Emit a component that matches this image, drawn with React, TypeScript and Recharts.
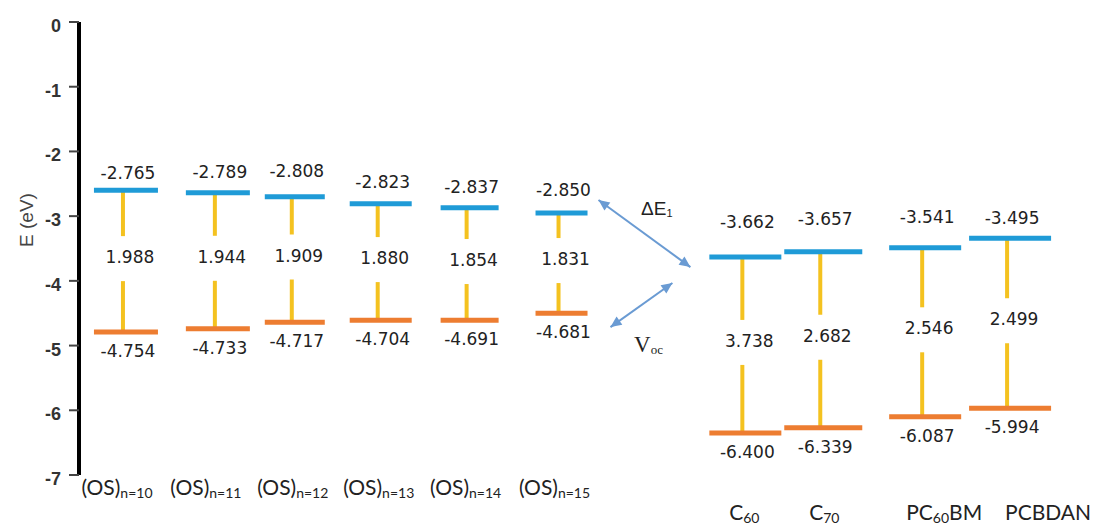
import React from 'react';
import { ComposedChart, Scatter, XAxis, YAxis, ReferenceLine } from 'recharts';

// categories (main text + subscript)
const categoryMain = ['(OS)', '(OS)', '(OS)', '(OS)', '(OS)', '(OS)', 'C', 'C', 'PC', 'PCBDAN'];
const categorySub = ['n=10', 'n=11', 'n=12', 'n=13', 'n=14', 'n=15', '60', '70', '60', ''];
const categoryTail = ['', '', '', '', '', '', '', '', 'BM', ''];

// printed values
const lumoValue = [-2.765, -2.789, -2.808, -2.823, -2.837, -2.85, -3.662, -3.657, -3.541, -3.495];
const homoValue = [-4.754, -4.733, -4.717, -4.704, -4.691, -4.681, -6.4, -6.339, -6.087, -5.994];
const gapValue = [1.988, 1.944, 1.909, 1.88, 1.854, 1.831, 3.738, 2.682, 2.546, 2.499];

// levels as drawn in the figure (eV)
const lumoLevel = [-2.6, -2.64, -2.7, -2.81, -2.87, -2.95, -3.63, -3.55, -3.49, -3.34];
const homoLevel = [-4.79, -4.74, -4.64, -4.61, -4.61, -4.5, -6.35, -6.27, -6.1, -5.97];

const yTicks = [0, -1, -2, -3, -4, -5, -6, -7];

// layout
const colX = [47, 139, 216, 302, 391, 483, 667, 745, 847, 932];
const barHalf = [32, 32, 30, 31, 29, 26, 36, 39, 36, 41];
const topGap = [17, 21, 26, 22, 21, 23, 35, 33, 31, 20];
const labelDx = [-9, -12, -2, -2, -4, -7, -1, 1, 19, 38];
const labelBaseline = [495, 495, 495, 495, 495, 495, 520, 520, 520, 520];

const arrowDeltaE = [{ x: 520, y: -2.751 }, { x: 612, y: -3.787 }];
const arrowVoc = [{ x: 532, y: -4.714 }, { x: 594, y: -4.034 }];

const BLUE = '#1f9bd7';
const ORANGE = '#ed7d31';
const YELLOW = '#f4c220';
const ARROW = '#6a9bd3';
const TEXT = '#222';
const VALUE_FONT = 'DejaVu Sans';

const rows = colX.map((x, i) => ({
	x,
	lumo: lumoLevel[i],
	homo: homoLevel[i],
	lumoLabel: lumoValue[i].toFixed(3),
	homoLabel: homoValue[i].toFixed(3),
	hw: barHalf[i],
	topGap: topGap[i],
}));

const LumoMark = (props: any) => {
	const { cx, cy, payload } = props;
	return (
		<g>
			<line x1={cx - payload.hw} x2={cx + payload.hw} y1={cy} y2={cy} stroke={BLUE} strokeWidth={5} />
			<text x={cx + 2} y={cy - payload.topGap} textAnchor="middle" dominantBaseline="central" fontFamily={VALUE_FONT} fontSize={17} fill={TEXT}>
				{payload.lumoLabel}
			</text>
		</g>
	);
};

const HomoMark = (props: any) => {
	const { cx, cy, payload } = props;
	return (
		<g>
			<line x1={cx - payload.hw} x2={cx + payload.hw} y1={cy} y2={cy} stroke={ORANGE} strokeWidth={5} />
			<text x={cx + 2} y={cy + 19} textAnchor="middle" dominantBaseline="central" fontFamily={VALUE_FONT} fontSize={17} fill={TEXT}>
				{payload.homoLabel}
			</text>
		</g>
	);
};

const makeConnector = (gap: string) => (p: any) => {
	const { x1, y1, y2 } = p;
	const mid = (y1 + y2) / 2 - 4;
	return (
		<g>
			<line x1={x1 - 3} x2={x1 - 3} y1={y1} y2={mid - 21} stroke={YELLOW} strokeWidth={4} />
			<line x1={x1 - 3} x2={x1 - 3} y1={mid + 24} y2={y2} stroke={YELLOW} strokeWidth={4} />
			<text x={x1 + 4} y={mid} textAnchor="middle" dominantBaseline="central" fontFamily={VALUE_FONT} fontSize={17} fill={TEXT}>
				{gap}
			</text>
		</g>
	);
};

const head = (x: number, y: number, ang: number) => {
	const len = 11;
	const w = 5;
	const bx = x - len * Math.cos(ang);
	const by = y - len * Math.sin(ang);
	const px = -Math.sin(ang) * w;
	const py = Math.cos(ang) * w;
	return `${x},${y} ${bx + px},${by + py} ${bx - px},${by - py}`;
};

const makeArrow = (label: React.ReactNode) => (p: any) => {
	const { x1, y1, x2, y2 } = p;
	const ang = Math.atan2(y2 - y1, x2 - x1);
	return (
		<g>
			<line x1={x1} y1={y1} x2={x2} y2={y2} stroke={ARROW} strokeWidth={2} />
			<polygon points={head(x2, y2, ang)} fill={ARROW} />
			<polygon points={head(x1, y1, ang + Math.PI)} fill={ARROW} />
			{label}
		</g>
	);
};

const deltaELabel = (
	<text x={641} y={215} fontFamily="Liberation Sans" fontSize={19} fill={TEXT}>
		ΔE<tspan fontSize={11} dy={2}>1</tspan>
	</text>
);

const vocLabel = (
	<text x={634} y={352} fontFamily="Liberation Serif" fontSize={23} fill={TEXT}>
		V<tspan fontSize={13} dy={2}>oc</tspan>
	</text>
);

const CategoryTick = (props: any) => {
	const { x, payload } = props;
	const i = colX.indexOf(payload.value);
	if (i < 0) return null;
	return (
		<text x={x + labelDx[i]} y={labelBaseline[i]} textAnchor="middle" fontFamily="Lato" fontSize={21} fill={TEXT}>
			{categoryMain[i]}
			{categorySub[i] && (
				<tspan fontSize={14} dy={3}>
					{categorySub[i]}
				</tspan>
			)}
			{categoryTail[i] && (
				<tspan fontSize={21} dy={-3}>
					{categoryTail[i]}
				</tspan>
			)}
		</text>
	);
};

const ValueTick = (props: any) => {
	const { x, y, payload } = props;
	return (
		<text x={x} y={y + 4} textAnchor="end" dominantBaseline="central" fontFamily="Liberation Sans" fontWeight="bold" fontSize={18} fill="#333">
			{payload.value}
		</text>
	);
};

export default function App() {
	return (
		<div style={{ position: 'absolute', left: 0, top: 0, width: 1097, height: 530, background: '#fff' }}>
			<ComposedChart width={1097} height={530} data={rows} margin={{ top: 22, right: 0, bottom: 0, left: 0 }}>
				<XAxis
					type="number"
					dataKey="x"
					domain={[0, 1019]}
					ticks={colX}
					interval={0}
					height={55}
					axisLine={false}
					tickLine={false}
					tick={<CategoryTick />}
				/>
				<YAxis
					type="number"
					domain={[-7, 0]}
					ticks={yTicks}
					width={79}
					interval={0}
					axisLine={{ stroke: '#000', strokeWidth: 4 }}
					tickLine={{ stroke: '#444', strokeWidth: 2 }}
					tickSize={10}
					tickMargin={8}
					tick={<ValueTick />}
					label={{
						content: () => (
							<text x={26} y={220} transform="rotate(-90 26 220)" textAnchor="middle" dominantBaseline="central" fontFamily="Liberation Sans" fontSize={19} fill="#444">
								E (eV)
							</text>
						),
					}}
				/>
				{rows.map((r, i) => (
					<ReferenceLine
						key={`c-${i}`}
						segment={[{ x: r.x, y: r.lumo }, { x: r.x, y: r.homo }]}
						ifOverflow="visible"
						shape={makeConnector(gapValue[i].toFixed(3))}
					/>
				))}
				<ReferenceLine segment={arrowDeltaE} ifOverflow="visible" shape={makeArrow(deltaELabel)} />
				<ReferenceLine segment={arrowVoc} ifOverflow="visible" shape={makeArrow(vocLabel)} />
				<Scatter dataKey="lumo" shape={<LumoMark />} isAnimationActive={false} />
				<Scatter dataKey="homo" shape={<HomoMark />} isAnimationActive={false} />
			</ComposedChart>
		</div>
	);
}
